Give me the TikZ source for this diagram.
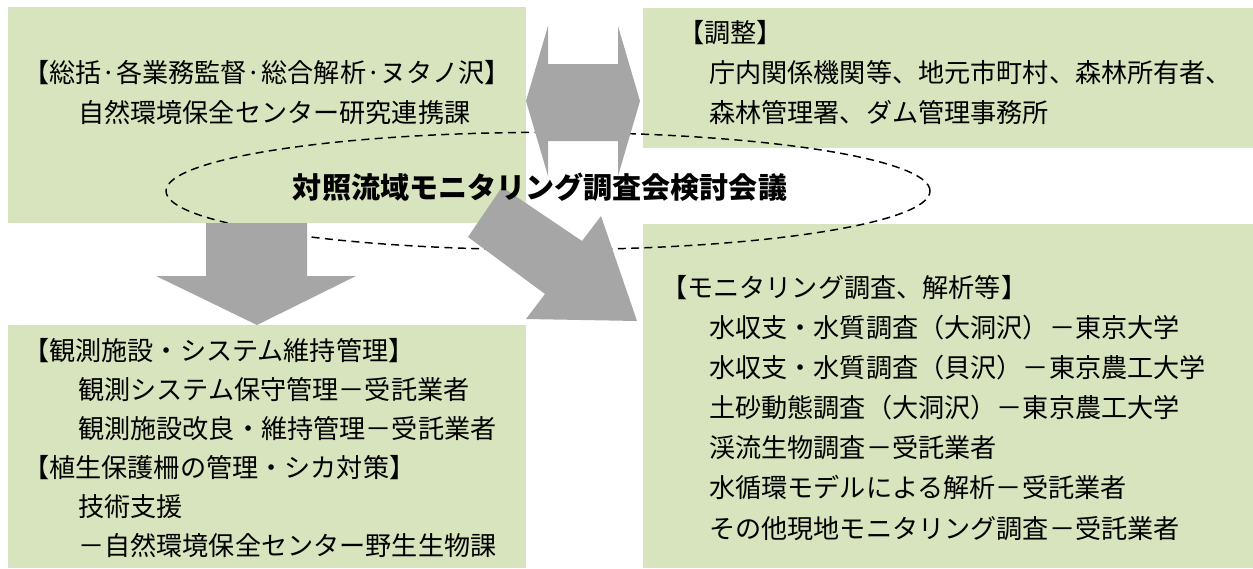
\documentclass[tikz,border=0pt]{standalone}
\usepackage{fontspec}
\setmainfont{Noto Sans CJK JP}
\usetikzlibrary{shapes.geometric,fit}

\definecolor{boxgreen}{HTML}{D7E4BD}
\definecolor{arrowgray}{HTML}{A6A6A6}
\newcommand\bodyfont{\fontsize{19.6pt}{30pt}\selectfont}

\tikzset{
  greenbox/.style={fill=boxgreen, draw=none, inner sep=0pt},
  blockarrow/.style={fill=arrowgray, draw=none},
  headtext/.style={anchor=base west, inner sep=0pt, font=\bodyfont},
  boxtext/.style={anchor=base west, inner sep=0pt, align=left, text width=440pt, font=\bodyfont},
}

\begin{document}
\begin{tikzpicture}[x=0.75pt, y=-0.75pt]
  \useasboundingbox (0,0) rectangle (1253,568);

  % Boxes
  \node[greenbox, fit={(8,7) (526,223)}] (lead) {};
  \node[greenbox, fit={(643,8) (1253,148)}] (adjust) {};
  \node[greenbox, fit={(643,224) (1253,568)}] (monitor) {};
  \node[greenbox, fit={(8,325) (526,568)}] (facility) {};

  % Meeting
  \node[draw, ellipse, line width=1.1pt, dash pattern=on 6pt off 4pt,
        minimum width=573pt, minimum height=88pt, inner sep=0pt] (meeting) at (548,191) {};

  % Block arrows
  \fill[blockarrow] (526,101) -- (548,26) -- (548,64) -- (618,64) -- (618,26)
    -- (640,101) -- (618,176) -- (618,141) -- (548,141) -- (548,176) -- cycle;
  \fill[blockarrow] (206,223) -- (307,223) -- (307,276) -- (356,276)
    -- (257,325) -- (156,276) -- (206,276) -- cycle;
  \fill[blockarrow] (502,187) -- (582,241) -- (601,216) -- (637,321)
    -- (526,319) -- (545,294) -- (468,237) -- cycle;

  % Title
  \node[inner sep=0pt, font=\fontsize{21.8pt}{26pt}\selectfont\bfseries] (title) at (540,187)
    {対照流域モニタリング調査会検討会議};

  % Texts
  \node[headtext] (leadhead) at (23,82) {【総括·各業務監督·総合解析·ヌタノ沢】};
  \node[boxtext] (leadbody) at (78,122) {自然環境保全センター研究連携課};

  \node[headtext] (adjhead) at (678,42) {【調整】};
  \node[boxtext] (adjbody) at (709,82)
    {庁内関係機関等、地元市町村、森林所有者、\\森林管理署、ダム管理事務所};

  \node[headtext] (monhead) at (661,297) {【モニタリング調査、解析等】};
  \node[boxtext, font=\fontsize{19.6pt}{30.15pt}\selectfont] (monbody) at (709,337)
    {水収支・水質調査（大洞沢）－東京大学\\
     水収支・水質調査（貝沢）－東京農工大学\\
     土砂動態調査（大洞沢）－東京農工大学\\
     渓流生物調査－受託業者\\
     水循環モデルによる解析－受託業者\\
     その他現地モニタリング調査－受託業者};

  \node[headtext] (obshead) at (23,360) {【観測施設・システム維持管理】};
  \node[boxtext, font=\fontsize{19.6pt}{29.25pt}\selectfont] (obsbody) at (78,399)
    {観測システム保守管理－受託業者\\観測施設改良・維持管理－受託業者};
  \node[headtext] (veghead) at (23,477) {【植生保護柵の管理・シカ対策】};
  \node[boxtext, font=\fontsize{19.6pt}{29.25pt}\selectfont] (vegbody) at (78,516)
    {技術支援\\－自然環境保全センター野生生物課};
\end{tikzpicture}
\end{document}
